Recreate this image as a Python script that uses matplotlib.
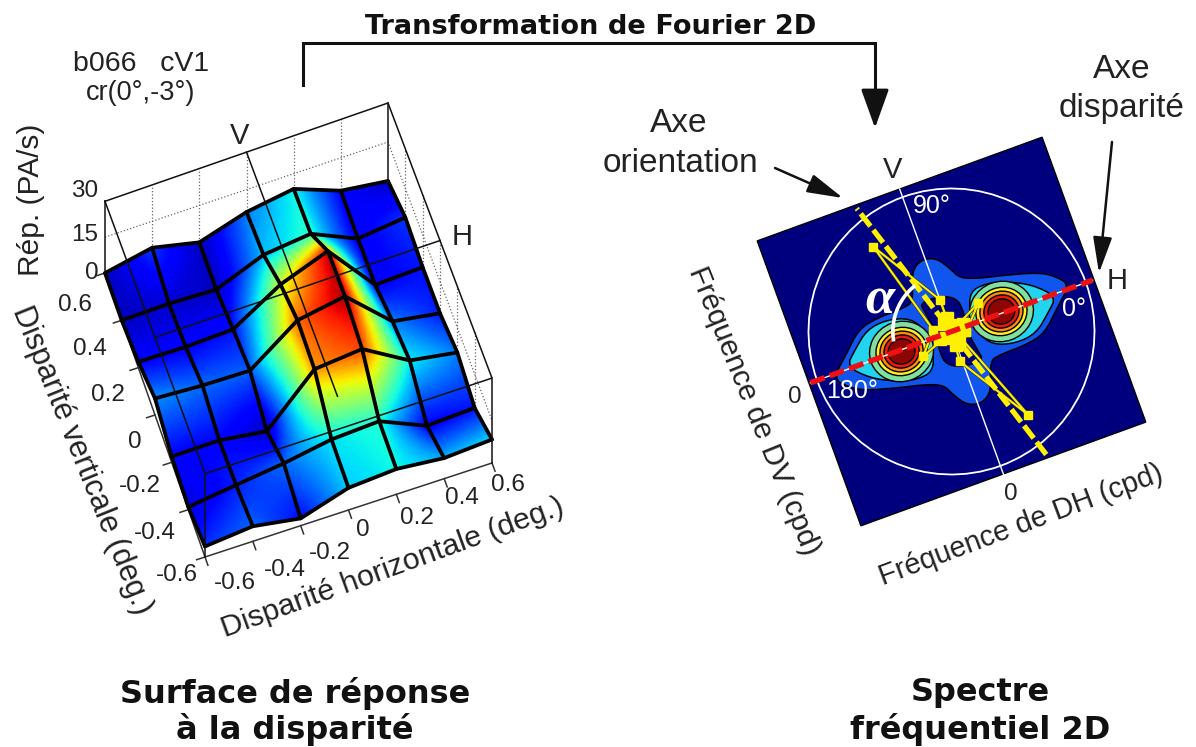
import numpy as np
import matplotlib
matplotlib.use("Agg")
import matplotlib.pyplot as plt
from matplotlib.colors import PowerNorm
from matplotlib.patches import Polygon, Ellipse, Rectangle
from matplotlib.transforms import Affine2D

# ---------- data: response surface ----------
disp_h = [-0.6, -0.4, -0.2, 0.0, 0.2, 0.4, 0.6]
disp_v = [-0.6, -0.4, -0.2, 0.0, 0.2, 0.4, 0.6]
h_labels = ['-0.6', '-0.4', '-0.2', '0', '0.2', '0.4', '0.6']
v_labels = ['-0.6', '-0.4', '-0.2', '0', '0.2', '0.4', '0.6']
z_ticks = [0, 15, 30]
rate = [[3.8, 5.4, 2.6, 7.9, 9.0, 7.3, 8.3],
        [1.0, 3.3, 5.5, 8.5, 9.4, 2.1, 2.9],
        [2.2, 2.4, 0.0, 17.2, 18.8, 8.8, 6.0],
        [6.4, 5.4, 5.1, 18.2, 21.2, 6.0, 3.2],
        [2.3, 2.1, 2.9, 14.2, 20.9, 2.1, 2.9],
        [0.0, 0.5, 0.0, 7.6, 9.7, 1.8, 4.0],
        [0.0, 4.1, 0.0, 6.0, 9.0, 2.2, 0.0]]

# ---------- data: 2D spectrum (half outlines, the spectrum is point symmetric) ----------
outer_half = [(-.119, .489), (-.024, .546), (.077, .517), (.140, .419), (.182, .330), (.313, .282),
              (.496, .240), (.720, .176), (.820, .110), (.887, .024), (.740, -.108), (.608, -.234),
              (.460, -.266), (.261, -.268), (.180, -.288)]
hole_half = [(-.140, .261), (.009, .262), (.112, .207), (.128, .114), (.105, -.051), (.130, -.200)]
cyan_lobe = [(.216, .219), (.345, .233), (.480, .197), (.647, .111), (.772, -.021), (.678, -.110),
             (.553, -.214), (.398, -.232), (.241, -.187), (.171, -.075), (.164, .077)]
peak = (0.376, 0.012)
ring_radii = [0.215, 0.172, 0.145, 0.118, 0.090]
ring_colors = ['#80E0A0', '#FFEE22', '#FF8811', '#E81A0C', '#8E0505']
polar_u = [.098, .243, 0, 0, -.311, -.116, -.246, 0, -.017, .304, .04, .098]
polar_v = [-.036, .122, 0, .236, .744, .055, -.096, 0, -.217, -.73, -.05, -.036]
orientation_deg = 107.6
alpha_span = [110, 168]

# ---------- layout ----------
FL = np.array([205.0, 557.0]); FR = np.array([492.0, 463.0])
BL = np.array([105.0, 273.0]); BR = np.array([388.0, 181.0])
zscale = {'BL': 2.39, 'FL': 2.78, 'FR': 2.83, 'BR': 2.60}


def project(dh, dv, z=0.0):
    dh, dv, z = np.asarray(dh, float), np.asarray(dv, float), np.asarray(z, float)
    u = (dh + 0.6) / 1.2
    v = (dv + 0.6) / 1.2
    w = [(1 - u) * (1 - v), u * (1 - v), (1 - u) * v, u * v]
    s = w[0] * zscale['FL'] + w[1] * zscale['FR'] + w[2] * zscale['BL'] + w[3] * zscale['BR']
    x = w[0] * FL[0] + w[1] * FR[0] + w[2] * BL[0] + w[3] * BR[0]
    y = w[0] * FL[1] + w[1] * FR[1] + w[2] * BL[1] + w[3] * BR[1] - z * s
    return x, y


def smooth(points, n=3):
    p = np.asarray(points, float)
    for _ in range(n):
        q = np.roll(p, -1, axis=0)
        p = np.column_stack([0.75 * p + 0.25 * q, 0.25 * p + 0.75 * q]).reshape(-1, 2)
    return p


def refine(a, k=14):
    """Subdivide a mesh array so that colours are mapped per small cell."""
    a = np.asarray(a, float)
    t = np.linspace(0, a.shape[0] - 1, (a.shape[0] - 1) * k + 1)
    i = np.minimum(t.astype(int), a.shape[0] - 2)
    f = t - i
    b = a[i] * (1 - f)[:, None] + a[i + 1] * f[:, None]
    t2 = np.linspace(0, a.shape[1] - 1, (a.shape[1] - 1) * k + 1)
    j = np.minimum(t2.astype(int), a.shape[1] - 2)
    g = t2 - j
    return b[:, j] * (1 - g) + b[:, j + 1] * g


fig = plt.figure(figsize=(11.96, 7.47), dpi=100)
ax = fig.add_axes([0, 0, 1, 1])
ax.set_xlim(0, 1196); ax.set_ylim(747, 0); ax.axis('off')
SANS = 'Liberation Sans'
GREY = '#222222'


def label(x, y, s, size=21, rot=0, **kw):
    kw.setdefault('family', SANS); kw.setdefault('color', GREY)
    ax.text(x, y, s, fontsize=size, rotation=rot, rotation_mode='anchor',
            ha='center', va='center', **kw)


# ---------- left panel: box behind the surface ----------
H, V = np.meshgrid(disp_h, disp_v)
Z = np.array(rate)
X, Y = project(H, V, Z)
e = 0.6
for d in disp_h[1:-1]:
    ax.plot(*project([d, d], [e, e], [0, 30]), color='#666666', lw=0.9, ls=':')
for d in disp_v[1:-1]:
    ax.plot(*project([e, e], [d, d], [0, 30]), color='#666666', lw=0.9, ls=':')
ax.plot(*project([-e, e, e], [e, e, -e], [15, 15, 15]), color='#666666', lw=0.9, ls=':')
ax.plot(*project([-e, -e, e], [e, -e, -e]), color='#333333', lw=1.1)
for d in disp_h:
    ax.plot(*project([d, d], [-e, -e - 0.035]), color='#333333', lw=1.1)
for d in disp_v:
    ax.plot(*project([-e, -e - 0.035], [d, d]), color='#333333', lw=1.1)

ax.pcolormesh(refine(X), refine(Y), refine(Z), shading='gouraud', cmap='jet',
              norm=PowerNorm(1.35, vmin=-3, vmax=22), zorder=3)
for j in range(7):
    ax.plot(X[j], Y[j], color='black', lw=2.7, zorder=4, solid_capstyle='round', solid_joinstyle='round')
    ax.plot(X[:, j], Y[:, j], color='black', lw=2.7, zorder=4, solid_capstyle='round', solid_joinstyle='round')

ax.plot(*project([-e, e, e, -e, -e], [e, e, -e, -e, e], [30] * 5), color='#111111', lw=1.1, zorder=5)
for a, b in [(-e, e), (e, e), (e, -e), (-e, -e)]:
    ax.plot(*project([a, a], [b, b], [0, 30]), color='#111111', lw=1.1, zorder=5)
ax.plot(*project([0, 0], [e, -0.47], [30, 30]), color='#111111', lw=1.1, zorder=5)
ax.plot(*project([-e, e], [0, 0], [30, 30]), color='#111111', lw=1.1, zorder=5)

h_off = [(30, 26), (32, 29), (29, 27), (14, 20), (21, 24), (18, 19), (16, 22)]
for d, s, o in zip(disp_h, h_labels, h_off):
    px, py = project(d, -0.6)
    label(px + o[0], py + o[1], s, 17.5)
v_off = [(-28, 18), (-33, 23), (-32, 24), (-20, 27), (-30, 27), (-32, 29), (-30, 32)]
for d, s, o in zip(disp_v, v_labels, v_off):
    px, py = project(-0.6, d)
    label(px + o[0], py + o[1], s, 17.5)
z_off = [(-13, 0), (-20, -2), (-20, -4)]
z_pos = [0, 15, 32.5]
for t, p, o in zip(z_ticks, z_pos, z_off):
    px, py = project(-0.6, 0.6, p)
    label(px + o[0], py + o[1], str(t), 17.5)

label(141, 64, 'b066   cV1', 20.5)
label(141, 93, 'cr(0°,-3°)', 19.5)
label(240, 136, 'V', 21)
label(462, 237, 'H', 21)
label(31, 200, 'Rép. (PA/s)', 21.5, 90)
label(82, 460, 'Disparité verticale (deg.)', 22, -68)
label(393, 568, 'Disparité horizontale (deg.)', 21.8, 20)

# ---------- right panel: spectrum in frequency units ----------
R = 143.0; c, s_ = np.cos(np.radians(20)), np.sin(np.radians(20))
tf = Affine2D(matrix=[[R * c, -R * s_, 951.5], [-R * s_, -R * c, 331.5], [0, 0, 1]]) + ax.transData
DARK = '#00007F'; BLUE = '#0F55EE'; CYAN = '#22D4EE'
ax.add_patch(Rectangle((-1.06, -1.06), 2.12, 2.12, fc=DARK, ec='black', lw=1.0, transform=tf, zorder=2))
outer = np.array(outer_half)
ax.add_patch(Polygon(smooth(np.vstack([outer, -outer]), 2), fc=BLUE, ec='black', lw=1.1, transform=tf, zorder=3))
hole = np.array(hole_half)
ax.add_patch(Polygon(smooth(np.vstack([hole, -hole]), 2), fc=DARK, ec='black', lw=1.1, transform=tf, zorder=3))
for sign in (1, -1):
    ax.add_patch(Polygon(sign * smooth(cyan_lobe, 2), fc=CYAN, ec='black', lw=1.1, transform=tf, zorder=4))
    for r, col in zip(ring_radii, ring_colors):
        ax.add_patch(Ellipse((sign * peak[0], sign * peak[1]), 2.1 * r, 1.95 * r, fc=col, ec='black', lw=1.0,
                             transform=tf, zorder=5))

ax.add_patch(Ellipse((0, 0), 2.0, 2.0, fc='none', ec='white', lw=1.3, transform=tf, zorder=6))
ax.plot([0, 0], [-1.1, 1.06], color='white', lw=1.0, transform=tf, zorder=6)
ax.plot([-1.05, 1.05], [0, 0], color='white', lw=1.0, transform=tf, zorder=6)

ox, oy = np.cos(np.radians(orientation_deg)), np.sin(np.radians(orientation_deg))
ax.plot([-1.086 * ox, 1.086 * ox], [-1.086 * oy, 1.086 * oy], color='#FFF000', lw=3.8,
        ls=(0, (3.0, 0.9)), transform=tf, zorder=8)
ax.plot(polar_u, polar_v, color='#333333', lw=2.4, transform=tf, zorder=7)
ax.plot(polar_u, polar_v, color='#FFF000', lw=1.5, marker='s', ms=6, mec='#FFF000', transform=tf, zorder=8)
ax.plot([0, .05, -.05, .03, -.03, .09, -.09, 0, 0], [0, .03, -.03, -.07, .07, .02, -.02, .1, -.1],
        ls='none', marker='s', ms=8.5, color='#FFF000', transform=tf, zorder=8)
ax.plot([-1.05, 1.05], [0, 0], color='#EE1111', lw=3.9, ls=(0, (2.8, 1.0)), transform=tf, zorder=9)
th = np.radians(np.linspace(alpha_span[0], alpha_span[1], 40))
ax.plot(0.41 * np.cos(th), 0.41 * np.sin(th), color='white', lw=2.6, transform=tf, zorder=10)

label(932, 206, '90°', 18, color='white', zorder=11)
label(1074, 309, '0°', 18, color='white', zorder=11)
label(852, 391, '180°', 18, color='white', zorder=11)
ax.text(880, 300, 'α', fontsize=38, family='Liberation Serif', fontstyle='italic', fontweight='bold',
        color='white', ha='center', va='center', zorder=11)

label(893, 170, 'V', 21)
label(1117, 281, 'H', 21)
label(795, 397, '0', 17.5)
label(1011, 494, '0', 17.5)
label(754, 411, 'Fréquence de DV (cpd)', 21.4, -68)
label(1021, 525, 'Fréquence de DH (cpd)', 20.7, 20.5)
label(679, 123, 'Axe', 24)
label(680, 163, 'orientation', 24)
label(1122, 70, 'Axe', 24)
label(1122, 108, 'disparité', 24)

arrow = dict(arrowstyle='-|>,head_length=2.2,head_width=0.58', color='#111111', lw=1.8, shrinkA=0, shrinkB=0)
ax.annotate('', xy=(843, 198), xytext=(775, 168), arrowprops=arrow)
ax.annotate('', xy=(1099, 273), xytext=(1112, 142), arrowprops=arrow)
ax.plot([303, 303, 875, 875], [85, 43, 43, 95], color='#111111', lw=2.2, solid_joinstyle='miter')
ax.annotate('', xy=(875, 128), xytext=(875, 90),
            arrowprops=dict(arrowstyle='-|>,head_length=2.4,head_width=0.86', color='#111111', lw=2.2,
                            shrinkA=0, shrinkB=0))

bold = dict(family='DejaVu Sans', fontweight='bold', color='#111111')
label(591, 27, 'Transformation de Fourier 2D', 19.6, **bold)
label(295, 693, 'Surface de réponse', 23, **bold)
label(295, 730, 'à la disparité', 23, **bold)
label(980, 693, 'Spectre', 23, **bold)
label(980, 730, 'fréquentiel 2D', 23, **bold)

fig.savefig('out.png', dpi=100)
